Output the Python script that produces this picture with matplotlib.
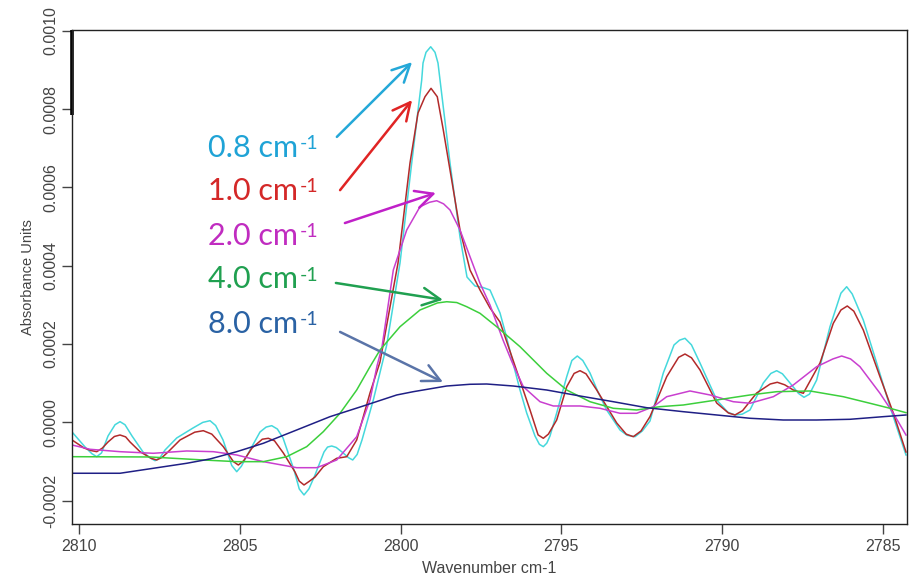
import matplotlib
matplotlib.use("Agg")
import matplotlib.pyplot as plt

plt.rcParams['font.family'] = ['Liberation Sans', 'DejaVu Sans']

# values in units of 1e-4 absorbance
SCALE = 1e-4

# 0.8 cm-1
wn_08 = [2810.218, 2809.813, 2809.60, 2809.449, 2809.30, 2809.098, 2808.88, 2808.725,
         2808.57, 2808.352, 2808.009, 2807.80, 2807.636, 2807.48, 2807.325, 2806.961,
         2806.454, 2806.15, 2805.925, 2805.75, 2805.521, 2805.25, 2805.095, 2804.95,
         2804.681, 2804.370, 2804.18, 2804.006, 2803.83, 2803.655, 2803.313, 2803.15,
         2803.002, 2802.85, 2802.659, 2802.380, 2802.27, 2802.140, 2802.0, 2801.820,
         2801.62, 2801.487, 2801.35, 2801.198, 2800.846, 2800.429, 2800.016, 2799.652,
         2799.341, 2799.30, 2799.207, 2799.061, 2798.927, 2798.834, 2798.771, 2798.460,
         2798.149, 2797.932, 2797.683, 2797.434, 2797.216, 2796.905, 2796.719, 2796.501,
         2796.283, 2796.075, 2795.817, 2795.68, 2795.558, 2795.45, 2795.350, 2795.142,
         2794.830, 2794.67, 2794.501, 2794.33, 2794.106, 2793.857, 2793.587, 2793.173,
         2792.95, 2792.706, 2792.48, 2792.240, 2791.826, 2791.493, 2791.32, 2791.151,
         2790.95, 2790.684, 2790.165, 2789.82, 2789.596, 2789.37, 2789.129, 2788.715,
         2788.48, 2788.299, 2788.12, 2787.885, 2787.62, 2787.450, 2787.28, 2787.055,
         2786.641, 2786.30, 2786.122, 2785.95, 2785.605, 2785.188, 2784.775, 2784.277]
ab_08 = [-0.245, -0.628, -0.80, -0.876, -0.78, -0.347, -0.06, 0.018,
         -0.06, -0.347, -0.756, -0.90, -0.978, -0.90, -0.705, -0.398,
         -0.143, 0.0, 0.043, -0.08, -0.449, -1.10, -1.259, -1.12,
         -0.705, -0.245, -0.12, -0.084, -0.17, -0.398, -1.215, -1.70,
         -1.853, -1.70, -1.343, -0.756, -0.63, -0.603, -0.64, -0.756,
         -0.90, -0.960, -0.82, -0.449, 0.572, 1.976, 4.069, 6.622,
         8.742, 9.175, 9.45, 9.591, 9.45, 9.175, 8.742, 6.622,
         4.733, 3.712, 3.482, 3.444, 3.380, 2.793, 2.231, 1.516,
         0.827, 0.240, -0.347, -0.56, -0.620, -0.53, -0.347, 0.240,
         1.167, 1.58, 1.695, 1.58, 1.261, 0.776, 0.317, -0.194,
         -0.33, -0.365, -0.22, 0.036, 1.261, 1.976, 2.10, 2.147,
         1.98, 1.516, 0.572, 0.26, 0.189, 0.21, 0.317, 1.006,
         1.25, 1.320, 1.24, 1.006, 0.74, 0.641, 0.72, 1.082,
         2.443, 3.30, 3.464, 3.28, 2.614, 1.516, 0.401, -0.832]

# 1.0 cm-1
wn_10 = [2810.218, 2809.844, 2809.62, 2809.449, 2809.28, 2809.098, 2808.90, 2808.725,
         2808.55, 2808.414, 2808.103, 2807.75, 2807.583, 2807.41, 2807.232, 2806.858,
         2806.40, 2806.134, 2805.87, 2805.512, 2805.20, 2805.045, 2804.88, 2804.619,
         2804.30, 2804.112, 2803.92, 2803.645, 2803.282, 2803.15, 2803.002, 2802.83,
         2802.659, 2802.401, 2801.984, 2801.673, 2801.363, 2800.949, 2800.638, 2800.078,
         2799.705, 2799.456, 2799.239, 2799.051, 2798.856, 2798.669, 2798.408, 2798.149,
         2797.838, 2797.527, 2797.216, 2796.905, 2796.501, 2795.972, 2795.72, 2795.558,
         2795.40, 2795.142, 2794.830, 2794.60, 2794.417, 2794.23, 2793.897, 2793.275,
         2792.98, 2792.759, 2792.52, 2792.240, 2791.720, 2791.35, 2791.151, 2790.95,
         2790.684, 2790.165, 2789.80, 2789.596, 2789.36, 2788.921, 2788.50, 2788.280,
         2788.05, 2787.782, 2787.471, 2786.952, 2786.538, 2786.30, 2786.103, 2785.90,
         2785.605, 2785.086, 2784.672, 2784.277]
ab_10 = [-0.449, -0.654, -0.72, -0.748, -0.66, -0.500, -0.36, -0.322,
         -0.37, -0.500, -0.748, -0.92, -0.960, -0.89, -0.756, -0.449,
         -0.25, -0.212, -0.30, -0.620, -1.00, -1.088, -0.98, -0.654,
         -0.43, -0.406, -0.47, -0.781, -1.266, -1.50, -1.598, -1.50,
         -1.394, -1.131, -0.917, -0.876, -0.449, 0.751, 1.542, 4.069,
         6.622, 7.899, 8.315, 8.530, 8.315, 7.465, 6.188, 4.912,
         3.891, 3.380, 2.921, 2.563, 1.593, 0.317, -0.32, -0.406,
         -0.30, 0.061, 0.911, 1.25, 1.320, 1.24, 0.827, -0.015,
         -0.30, -0.365, -0.22, 0.146, 1.167, 1.66, 1.746, 1.65,
         1.338, 0.495, 0.24, 0.189, 0.30, 0.751, 0.98, 1.024,
         0.96, 0.827, 0.743, 1.516, 2.530, 2.87, 2.972, 2.84,
         2.359, 1.167, 0.240, -0.756]

# 2.0 cm-1
wn_20 = [2810.218, 2809.658, 2808.725, 2807.689, 2806.650, 2805.823, 2805.095, 2804.268,
         2803.229, 2802.607, 2801.984, 2801.363, 2800.949, 2800.731, 2800.576, 2800.224,
         2799.807, 2799.394, 2799.10, 2798.874, 2798.66, 2798.460, 2798.149, 2797.838,
         2797.527, 2797.216, 2796.812, 2796.532, 2796.180, 2795.661, 2795.247, 2794.417,
         2793.795, 2793.173, 2792.653, 2792.137, 2791.720, 2790.996, 2790.373, 2789.649,
         2789.129, 2788.404, 2787.782, 2787.055, 2786.55, 2786.277, 2786.0, 2785.708,
         2785.086, 2784.672, 2784.277]
ab_20 = [-0.577, -0.687, -0.748, -0.789, -0.730, -0.748, -0.832, -1.003,
         -1.157, -1.157, -0.960, -0.365, 0.572, 1.440, 1.925, 3.891,
         4.912, 5.507, 5.62, 5.660, 5.58, 5.423, 4.912, 4.230,
         3.551, 2.997, 2.104, 1.542, 0.911, 0.528, 0.419, 0.419,
         0.360, 0.232, 0.232, 0.401, 0.656, 0.802, 0.700, 0.528,
         0.488, 0.656, 0.955, 1.422, 1.62, 1.695, 1.62, 1.422,
         0.743, 0.232, -0.322]

# 4.0 cm-1
wn_40 = [2810.218, 2807.792, 2806.134, 2805.095, 2804.268, 2803.540, 2802.918, 2802.401,
         2801.882, 2801.363, 2800.949, 2800.638, 2800.016, 2799.394, 2798.85, 2798.563,
         2798.25, 2797.941, 2797.527, 2797.008, 2796.283, 2795.453, 2794.830, 2794.106,
         2793.381, 2792.653, 2791.929, 2791.204, 2790.165, 2789.129, 2788.299, 2787.263,
         2786.227, 2785.397, 2784.775, 2784.277]
ab_40 = [-0.876, -0.883, -0.960, -1.003, -1.003, -0.876, -0.620, -0.237,
         0.232, 0.827, 1.422, 1.848, 2.443, 2.870, 3.05, 3.081,
         3.06, 2.954, 2.785, 2.443, 1.933, 1.254, 0.827, 0.528,
         0.360, 0.317, 0.401, 0.444, 0.572, 0.700, 0.784, 0.802,
         0.656, 0.488, 0.360, 0.248]

# 8.0 cm-1
wn_80 = [2810.218, 2808.725, 2807.689, 2806.650, 2805.925, 2805.095, 2804.268, 2803.229,
         2802.193, 2801.157, 2800.118, 2799.602, 2798.563, 2797.838, 2797.319, 2796.492,
         2795.453, 2794.417, 2793.381, 2792.343, 2791.204, 2790.165, 2789.129, 2788.094,
         2787.055, 2786.019, 2784.984, 2784.277]
ab_80 = [-1.299, -1.299, -1.172, -1.044, -0.934, -0.748, -0.534, -0.194,
         0.146, 0.419, 0.700, 0.784, 0.929, 0.973, 0.980, 0.929,
         0.827, 0.674, 0.528, 0.375, 0.273, 0.189, 0.105, 0.061,
         0.061, 0.079, 0.146, 0.189]

series = [
    (wn_08, ab_08, '#45d8dc'),
    (wn_10, ab_10, '#b22a2a'),
    (wn_20, ab_20, '#c93fcf'),
    (wn_40, ab_40, '#3ccf3c'),
    (wn_80, ab_80, '#1f1f85'),
]

labels = ['0.8', '1.0', '2.0', '4.0', '8.0']
label_colors = ['#1fa3d6', '#d42828', '#c02cc0', '#20a050', '#2a62a4']
arrow_colors = ['#24a8d8', '#e02424', '#c020c8', '#20a050', '#5a74a8']
# label baseline positions and arrow start / tip (data coords)
label_pos = [(2805.99, 6.78), (2805.99, 5.68), (2805.99, 4.53), (2805.99, 3.42), (2805.99, 2.29)]
arrow_from = [(2801.98, 7.29), (2801.88, 5.93), (2801.73, 5.09), (2802.01, 3.56), (2801.88, 2.31)]
arrow_to = [(2799.64, 9.20), (2799.64, 8.23), (2798.90, 5.86), (2798.68, 3.13), (2798.68, 1.03)]

fig = plt.figure(figsize=(9.14, 5.82), dpi=100)
ax = fig.add_axes([0.0788, 0.0997, 0.9132, 0.8488])

for wn, ab, col in series:
    ax.plot(wn, [v * SCALE for v in ab], color=col, lw=1.1)

ax.set_xlim(2810.218, 2784.255)
ax.set_ylim(-0.0002594, 0.001002)
ax.set_xticks([2810, 2805, 2800, 2795, 2790, 2785])
ax.set_yticks([-0.0002, 0.0, 0.0002, 0.0004, 0.0006, 0.0008, 0.0010])
ax.set_yticklabels(['-0.0002', '0.0000', '0.0002', '0.0004', '0.0006', '0.0008', '0.0010'],
                   rotation=90, va='center')
ax.tick_params(direction='out', length=7, width=1, color='#444444',
               labelcolor='#444444', labelsize=11.5, pad=4)
ax.tick_params(axis='y', pad=3)
for sp in ax.spines.values():
    sp.set_linewidth(1.0)
    sp.set_color('#222222')
ax.set_xlabel('Wavenumber cm-1', fontsize=11.5, color='#444444', labelpad=5)
ax.set_ylabel('Absorbance Units', fontsize=10.5, color='#444444', labelpad=6)

# darker section of the left frame near the top
ax.plot([0, 0], [0.000785, 0.001002], transform=ax.get_yaxis_transform(),
        color='black', lw=2.6, clip_on=False, solid_capstyle='butt')

for i in range(5):
    ax.annotate('', xy=(arrow_to[i][0], arrow_to[i][1] * SCALE),
                xytext=(arrow_from[i][0], arrow_from[i][1] * SCALE),
                arrowprops=dict(arrowstyle='->,head_length=0.7,head_width=0.35',
                                color=arrow_colors[i], lw=1.8, shrinkA=0, shrinkB=0,
                                mutation_scale=18))
    txt = ax.text(label_pos[i][0], label_pos[i][1] * SCALE, labels[i] + ' cm',
                  color=label_colors[i], fontsize=22, family=['Lato', 'DejaVu Sans'],
                  ha='left', va='baseline')
    ax.annotate('-1', xy=(1, 1), xycoords=txt, xytext=(1, -1), textcoords='offset points',
                color=label_colors[i], fontsize=14, family=['Lato', 'DejaVu Sans'],
                ha='left', va='top')

fig.savefig('out.png', dpi=100)
